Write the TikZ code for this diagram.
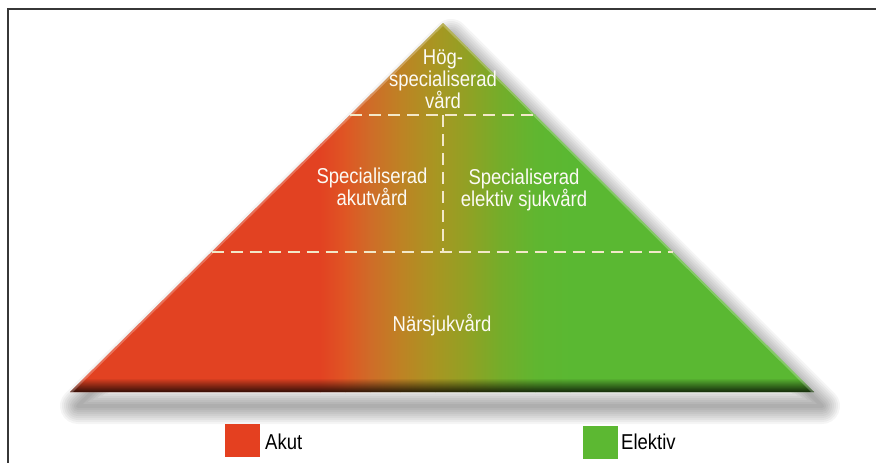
\documentclass[tikz,border=0pt]{standalone}
\usepackage{fontspec}
\setmainfont{Liberation Sans}[FakeStretch=0.86]
\usetikzlibrary{calc,fadings}
\tikzfading[name=fadeup, top color=transparent!100, bottom color=transparent!0]

\definecolor{framecol}{RGB}{55,55,55}
\definecolor{cA}{RGB}{226,66,34}
\definecolor{cB}{RGB}{223,86,36}
\definecolor{cC}{RGB}{207,108,40}
\definecolor{cD}{RGB}{190,130,36}
\definecolor{cE}{RGB}{168,150,34}
\definecolor{cF}{RGB}{145,161,36}
\definecolor{cG}{RGB}{116,173,42}
\definecolor{cH}{RGB}{96,182,48}
\definecolor{cI}{RGB}{90,184,50}
\definecolor{dashcol}{RGB}{242,232,200}
\definecolor{labelcol}{RGB}{252,250,244}
\definecolor{akutred}{RGB}{228,64,32}
\definecolor{elektivgreen}{RGB}{92,184,50}

\begin{document}
\begin{tikzpicture}[x=1pt,y=-1pt,
  level/.style={font=\fontsize{21.5}{22}\selectfont, text=labelcol, align=center, inner sep=0pt},
  legendtext/.style={font=\fontsize{21.5}{22}\selectfont, text=black, inner sep=0pt, anchor=base west},
  legbox/.style={minimum width=35pt, minimum height=33pt, inner sep=0pt},
  separator/.style={dashcol, line width=1.8pt, dash pattern=on 12pt off 7pt}]

\useasboundingbox (0,0) rectangle (876,463);
\fill[white] (0,0) rectangle (876,463);

% frame along top and left
\draw[framecol, line width=1.8pt] (7.6,463) -- (7.6,8.8) -- (876,8.8);

% pyramid corners
\coordinate (apex) at (443,23);
\coordinate (bl) at (70,392);
\coordinate (br) at (814,392);

% soft drop shadow, built from stacked translucent outlines
\foreach \w in {4,8,...,36}
  \draw[black, opacity=0.04, line width=\w pt, line join=round]
    ([shift={(8,14)}]apex) -- ([shift={(8,14)}]bl) -- ([shift={(8,14)}]br) -- cycle;

% pyramid body with a red to green gradient
\begin{scope}
  \clip (apex) -- (bl) -- (br) -- cycle;
  \fill[cA] (60,15) rectangle (320.5,400);
  \shade[left color=cA, right color=cB] (320,15) rectangle (345.5,400);
  \shade[left color=cB, right color=cC] (345,15) rectangle (370.5,400);
  \shade[left color=cC, right color=cD] (370,15) rectangle (400.5,400);
  \shade[left color=cD, right color=cE] (400,15) rectangle (435.5,400);
  \shade[left color=cE, right color=cF] (435,15) rectangle (467.5,400);
  \shade[left color=cF, right color=cG] (467,15) rectangle (500.5,400);
  \shade[left color=cG, right color=cH] (500,15) rectangle (535.5,400);
  \shade[left color=cH, right color=cI] (535,15) rectangle (570.5,400);
  \fill[cI] (570,15) rectangle (830,400);
  % darker lower rim
  \fill[black, opacity=0.8, path fading=fadeup] (60,378) rectangle (830,392.5);
  % light bevel along the slanted edges
  \draw[white, opacity=0.25, line width=4pt, line join=round] (bl) -- (apex) -- (br);
\end{scope}

% level separators
\coordinate (l1a) at ($(apex)!0.2493!(bl)$);
\coordinate (l1b) at ($(apex)!0.2493!(br)$);
\coordinate (l2a) at ($(apex)!0.6206!(bl)$);
\coordinate (l2b) at ($(apex)!0.6206!(br)$);
\coordinate (vtop) at (443,115);
\coordinate (vbot) at (443,252);
\draw[separator] (l1a) -- (l1b);
\draw[separator] (l2a) -- (l2b);
\draw[separator] (vtop) -- (vbot);

% level labels
\node[level] (hog) at (443,79) {Hög-\\specialiserad\\vård};
\node[level] (akutvard) at (372,187) {Specialiserad\\akutvård};
\node[level] (elektivvard) at (524,190) {Specialiserad\\elektiv sjukvård};
\node[level, anchor=base] (nara) at (442,331) {Närsjukvård};

% legend
\node[legbox, fill=akutred] (akutbox) at (242.5,440.5) {};
\node[legendtext] (akut) at (265,449) {Akut};
\node[legbox, fill=elektivgreen] (elektivbox) at (600,442) {};
\node[legendtext] (elektiv) at (621,449) {Elektiv};
\end{tikzpicture}
\end{document}
